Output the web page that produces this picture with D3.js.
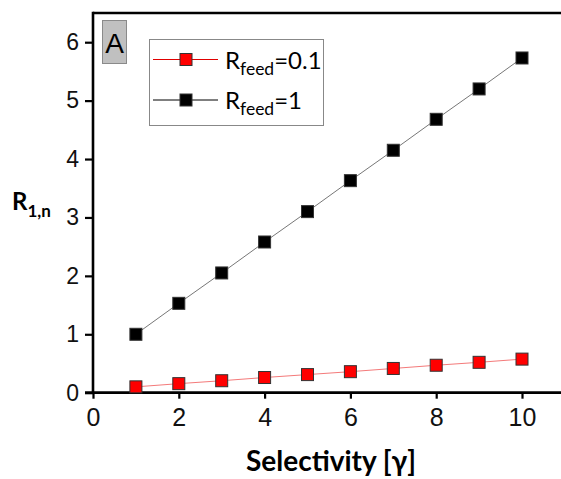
<!DOCTYPE html>
<html lang="en">
<head>
<meta charset="UTF-8">
<title>R1,n vs selectivity</title>
<script src="https://d3js.org/d3.v7.min.js"></script>
<style>
  body { margin: 0; background: #fff; }
  svg { display: block; }
  .lbl { font-family: Lato, "Open Sans", sans-serif; fill: #000; }
</style>
</head>
<body>
<div id="chart"></div>
<script>
// data
var selectivity = [1, 2, 3, 4, 5, 6, 7, 8, 9, 10];
var rFeed01 = [0.10, 0.155, 0.205, 0.26, 0.31, 0.36, 0.415, 0.47, 0.52, 0.575];
var rFeed1 = [1.00, 1.53, 2.05, 2.58, 3.10, 3.63, 4.15, 4.68, 5.20, 5.73];
var xTicks = [0, 2, 4, 6, 8, 10];
var yTicks = [0, 1, 2, 3, 4, 5, 6];
var seriesNames = ["0.1", "1"];

var W = 561, H = 479;
var padL = 93, padT = 13, baseY = 392.7;

var svg = d3.select("#chart").append("svg")
    .attr("width", W)
    .attr("height", H);

var x = d3.scaleLinear().domain([0, 11]).range([padL, padL + 11 * 42.9]);
var y = d3.scaleLinear().domain([0, 6.5]).range([baseY, padT]);

// axes
var xAxis = svg.append("g")
    .attr("transform", "translate(0," + baseY + ")")
    .call(d3.axisBottom(x).tickValues(xTicks).tickFormat(d3.format("d"))
      .tickSize(6).tickPadding(10).tickSizeOuter(0));
xAxis.select(".domain").attr("d", "M" + (padL - 8) + ",0H" + W).attr("stroke", "#000").attr("stroke-width", 2.8);
xAxis.selectAll(".tick line").attr("stroke-width", 2.2);
xAxis.selectAll(".tick text").style("font-size", "25px");

var yAxis = svg.append("g")
    .attr("transform", "translate(" + padL + ",0)")
    .call(d3.axisLeft(y).tickValues(yTicks).tickFormat(d3.format("d"))
      .tickSize(8).tickPadding(6).tickSizeOuter(0));
yAxis.select(".domain").attr("d", "M0," + (padT - 1.3) + "V" + baseY).attr("stroke", "#000").attr("stroke-width", 2.6);
yAxis.selectAll(".tick line").attr("stroke-width", 2.2);
yAxis.selectAll(".tick text").style("font-size", "23px");

svg.selectAll(".tick text")
    .style("font-family", "'Liberation Sans', Arial, sans-serif")
    .attr("fill", "#111");

// top frame line
svg.append("line")
    .attr("x1", padL).attr("x2", W)
    .attr("y1", padT).attr("y2", padT)
    .attr("stroke", "#000").attr("stroke-width", 2.6);

// series
var line = d3.line()
    .x(function(d, i) { return x(selectivity[i]); })
    .y(function(d) { return y(d); });

var series = [
  { vals: rFeed01, line: "#f47a7a", fill: "#ff0000" },
  { vals: rFeed1, line: "#777", fill: "#000" }
];

var sz = 12;
series.forEach(function(s) {
  svg.append("path")
      .datum(s.vals)
      .attr("d", line)
      .attr("fill", "none")
      .attr("stroke", s.line)
      .attr("stroke-width", 1);
  svg.selectAll(null)
      .data(s.vals)
      .enter().append("rect")
      .attr("x", function(d, i) { return x(selectivity[i]) - sz / 2; })
      .attr("y", function(d) { return y(d) - sz / 2; })
      .attr("width", sz).attr("height", sz)
      .attr("fill", s.fill)
      .attr("stroke", "#333")
      .attr("stroke-width", 1);
});

// panel letter
svg.append("rect")
    .attr("x", 102.5).attr("y", 20.5).attr("width", 24).attr("height", 43)
    .attr("fill", "#c0c0c0").attr("stroke", "#8a8a8a").attr("stroke-width", 1);
svg.append("text")
    .attr("x", 114.5).attr("y", 53)
    .attr("text-anchor", "middle")
    .style("font-family", "'Liberation Sans', Arial, sans-serif")
    .style("font-size", "28px")
    .text("A");

// legend
svg.append("rect")
    .attr("x", 149.5).attr("y", 39.5).attr("width", 174).attr("height", 86)
    .attr("fill", "#fff").attr("stroke", "#888").attr("stroke-width", 1);
var legCols = ["#e00000", "#000"];
var legFill = ["#ff0000", "#000"];
var rowY = [59.5, 100];
seriesNames.forEach(function(n, i) {
  svg.append("line")
      .attr("x1", 153).attr("x2", 218)
      .attr("y1", rowY[i]).attr("y2", rowY[i])
      .attr("stroke", legCols[i]).attr("stroke-width", 1);
  svg.append("rect")
      .attr("x", 186 - sz / 2).attr("y", rowY[i] - sz / 2)
      .attr("width", sz).attr("height", sz)
      .attr("fill", legFill[i]).attr("stroke", "#333");
  var t = svg.append("text")
      .attr("class", "lbl")
      .attr("x", 225).attr("y", rowY[i] + 9)
      .style("font-size", "24px");
  t.append("tspan").text("R");
  t.append("tspan").attr("dy", 6).style("font-size", "17.5px").text("feed");
  t.append("tspan").attr("dy", -6).text("=" + n);
});

// axis titles
var yt = svg.append("text")
    .attr("class", "lbl")
    .attr("x", 12).attr("y", 210)
    .style("font-size", "24px").style("font-weight", "bold");
yt.append("tspan").text("R");
yt.append("tspan").attr("dy", 7).style("font-size", "17px").text("1,n");

svg.append("text")
    .attr("class", "lbl")
    .attr("x", 331).attr("y", 471)
    .attr("text-anchor", "middle")
    .style("font-size", "28px").style("font-weight", "bold")
    .text("Selectivity [\u03b3]");
</script>
</body>
</html>
